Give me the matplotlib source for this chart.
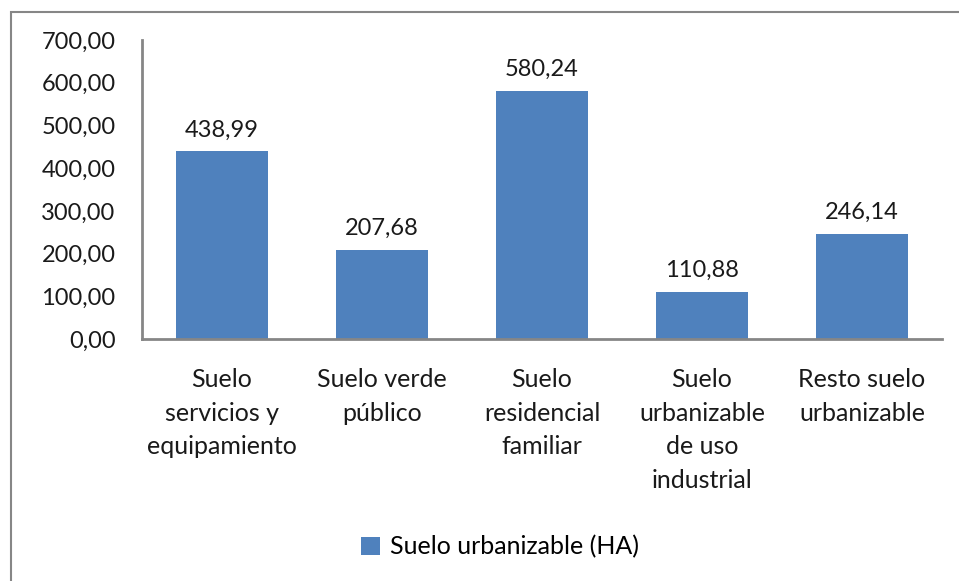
import matplotlib
matplotlib.use("Agg")
import matplotlib.pyplot as plt
import matplotlib.patches as patches

categorias = ["Suelo\nservicios y\nequipamiento", "Suelo verde\npúblico",
              "Suelo\nresidencial\nfamiliar", "Suelo\nurbanizable\nde uso\nindustrial",
              "Resto suelo\nurbanizable"]
valores = [438.99, 207.68, 580.24, 110.88, 246.14]
serie = "Suelo urbanizable (HA)"
yticks = [0, 100, 200, 300, 400, 500, 600, 700]

plt.rcParams['font.family'] = ['Lato', 'DejaVu Sans']
color_barra = '#4F81BD'
gris = '#868686'

fig = plt.figure(figsize=(9.59, 5.81), dpi=100)
# borde del area del grafico (solo se ven arriba e izquierda)
fig.patches.append(patches.Rectangle((11/959, -0.1), 1.2, 1 - 11.5/581 + 0.1,
                                     transform=fig.transFigure, fill=False,
                                     edgecolor=gris, linewidth=1.5))

ax = fig.add_axes([142/959, 1 - 339/581, 800/959, 299/581])
x = list(range(len(valores)))
ax.bar(x, valores, width=0.575, color=color_barra, label=serie, zorder=2)

for xi, v in zip(x, valores):
    ax.annotate('{:.2f}'.format(v).replace('.', ','), (xi, v),
                xytext=(0, 8), textcoords='offset points',
                ha='center', va='bottom', fontsize=17, color='#1a1a1a')

ax.set_xlim(-0.5, len(valores) - 0.5)
ax.set_ylim(0, 700)
ax.set_yticks(yticks)
ax.set_yticklabels(['{:.2f}'.format(t).replace('.', ',') for t in yticks])
ax.set_xticks(x)
ax.set_xticklabels(categorias, linespacing=1.55)
ax.tick_params(axis='y', length=0, pad=19, labelsize=17, labelcolor='#1a1a1a')
ax.tick_params(axis='x', length=0, pad=21, labelsize=18, labelcolor='#1a1a1a')

for s in ['top', 'right']:
    ax.spines[s].set_visible(False)
for s in ['left', 'bottom']:
    ax.spines[s].set_color(gris)
    ax.spines[s].set_linewidth(2)

fig.legend(loc='center', bbox_to_anchor=(500/959, 1 - 547/581),
           frameon=False, fontsize=18, handlelength=0.75, handleheight=0.75,
           handletextpad=0.4)

fig.savefig('out.png', dpi=100)
